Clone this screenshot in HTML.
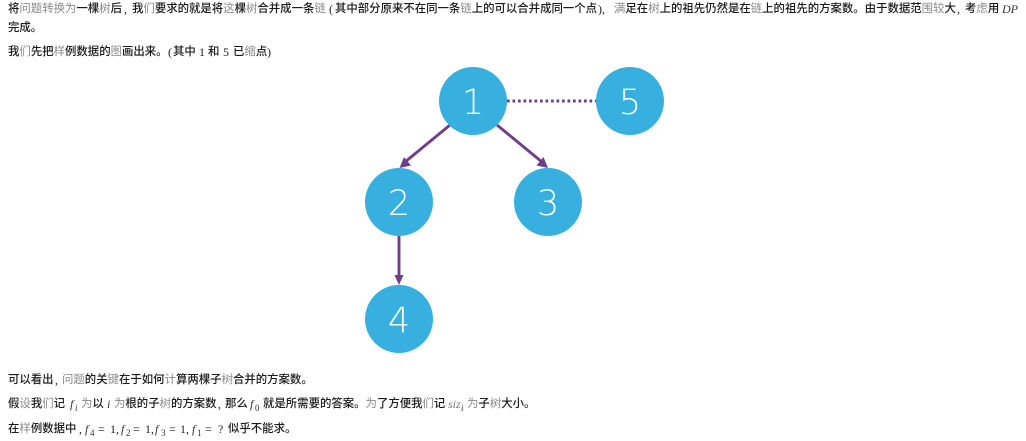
<!DOCTYPE html>
<html lang="zh"><head><meta charset="utf-8">
<style>
html,body{margin:0;padding:0;background:#fff;width:1026px;height:441px;overflow:hidden}
.l{position:absolute;white-space:nowrap;font:11.4px/16px "Liberation Sans","Noto Sans CJK SC",sans-serif;color:#1a1a1a;font-weight:500}
.l b{font-weight:400;color:#8a8a8a}
.n{position:absolute;white-space:nowrap;font:12px/16px "Liberation Serif",serif;color:#222}
.f{font-style:italic;color:#333}
.s{font-size:9px;color:#333}
svg{position:absolute;left:0;top:0}
</style></head><body>
<svg width="1026" height="441" viewBox="0 0 1026 441">
<g stroke="#6f3d8c" stroke-width="2.9" fill="none">
<line x1="450" y1="125" x2="405" y2="162"/>
<line x1="497" y1="125" x2="542" y2="162"/>
<line x1="399" y1="236" x2="399" y2="279"/>
<line x1="507" y1="101" x2="596" y2="101" stroke-width="3" stroke-dasharray="2.700 2.800"/>
</g>
<g fill="#6f3d8c">
<polygon points="399.500,168 404,157 411,165.500"/>
<polygon points="548,168 536.500,165.500 543.500,157"/>
<polygon points="399,285 394.500,275 403.500,275"/>
</g>
<g fill="#37b0e0">
<circle cx="473" cy="101" r="34"/><circle cx="630" cy="101" r="34"/>
<circle cx="399" cy="202" r="34"/><circle cx="548" cy="202" r="34"/><circle cx="399" cy="319" r="34"/>
</g>
<g fill="#fff" font-family="'DejaVu Sans',sans-serif" font-size="35" font-weight="200" text-anchor="middle">
<text x="473" y="114">1</text><text x="630" y="114">5</text>
<text x="399" y="215">2</text><text x="548" y="215">3</text><text x="399" y="332">4</text>
</g>
</svg>

<div class="l" style="left:8px;top:1px">将<b>问题转换为</b>一棵<b>树</b>后</div>
<div class="n" style="left:124px;top:1px">,</div>
<div class="l" style="left:132px;top:1px">我<b>们</b>要求的就是将<b>这</b>棵<b>树</b>合并成一条<b>链</b></div>
<div class="n" style="left:329px;top:1px">(</div>
<div class="l" style="left:335px;top:1px">其中部分原来不在同一条<b>链</b>上的可以合并成同一个点</div>
<div class="n" style="left:598px;top:1px">),</div>
<div class="l" style="left:614px;top:1px"><b>满</b>足在<b>树</b>上的祖先仍然是在<b>链</b>上的祖先的方案数。由于数据范<b>围较</b>大</div>
<div class="n" style="left:957px;top:1px">,</div>
<div class="l" style="left:965px;top:1px">考<b>虑</b>用</div>
<div class="n f" style="left:1002px;top:1px">DP</div>

<div class="l" style="left:8px;top:20px">完成。</div>

<div class="l" style="left:8px;top:44px">我<b>们</b>先把<b>样</b>例数据的<b>图</b>画出来。</div>
<div class="n" style="left:168px;top:44px">(</div>
<div class="l" style="left:173px;top:44px">其中</div>
<div class="n" style="left:199px;top:44px">1</div>
<div class="l" style="left:208px;top:44px">和</div>
<div class="n" style="left:223px;top:44px">5</div>
<div class="l" style="left:233px;top:44px">已<b>缩</b>点</div>
<div class="n" style="left:267px;top:44px">)</div>

<div class="l" style="left:8px;top:372px">可以看出</div>
<div class="n" style="left:55px;top:372px">,</div>
<div class="l" style="left:62px;top:372px"><b>问题</b>的关<b>键</b>在于如何<b>计</b>算两棵子<b>树</b>合并的方案数。</div>

<div class="l" style="left:8px;top:396px">假<b>设</b>我<b>们</b>记</div>
<div class="n f" style="left:70px;top:396px">f</div>
<div class="n f s" style="left:75px;top:400px">i</div>
<div class="l" style="left:81px;top:396px"><b>为</b>以</div>
<div class="n f" style="left:107px;top:396px">i</div>
<div class="l" style="left:114px;top:396px"><b>为</b>根的子<b>树</b>的方案数</div>
<div class="n" style="left:218px;top:396px">,</div>
<div class="l" style="left:225px;top:396px">那么</div>
<div class="n f" style="left:250px;top:396px">f</div>
<div class="n s" style="left:255px;top:400px">0</div>
<div class="l" style="left:263px;top:396px">就是所需要的答案。<b>为</b>了方便我<b>们</b>记</div>
<div class="n f" style="left:448px;top:396px;color:#777">siz</div>
<div class="n f s" style="left:461px;top:400px">i</div>
<div class="l" style="left:467px;top:396px"><b>为</b>子<b>树</b>大小。</div>

<div class="l" style="left:8px;top:421px">在<b>样</b>例数据中</div>
<div class="n" style="left:79px;top:421px">,</div>
<div class="n f" style="left:85px;top:421px">f</div>
<div class="n s" style="left:90px;top:425px">4</div>
<div class="n" style="left:98px;top:421px">=</div>
<div class="n" style="left:110px;top:421px">1,</div>
<div class="n f" style="left:121px;top:421px">f</div>
<div class="n s" style="left:126px;top:425px">2</div>
<div class="n" style="left:133px;top:421px">=</div>
<div class="n" style="left:145px;top:421px">1,</div>
<div class="n f" style="left:155px;top:421px">f</div>
<div class="n s" style="left:161px;top:425px">3</div>
<div class="n" style="left:169px;top:421px">=</div>
<div class="n" style="left:180px;top:421px">1,</div>
<div class="n f" style="left:192px;top:421px">f</div>
<div class="n s" style="left:197px;top:425px">1</div>
<div class="n" style="left:205px;top:421px">=</div>
<div class="n" style="left:218px;top:421px">?</div>
<div class="l" style="left:228px;top:421px">似乎不能求。</div>
</body></html>
